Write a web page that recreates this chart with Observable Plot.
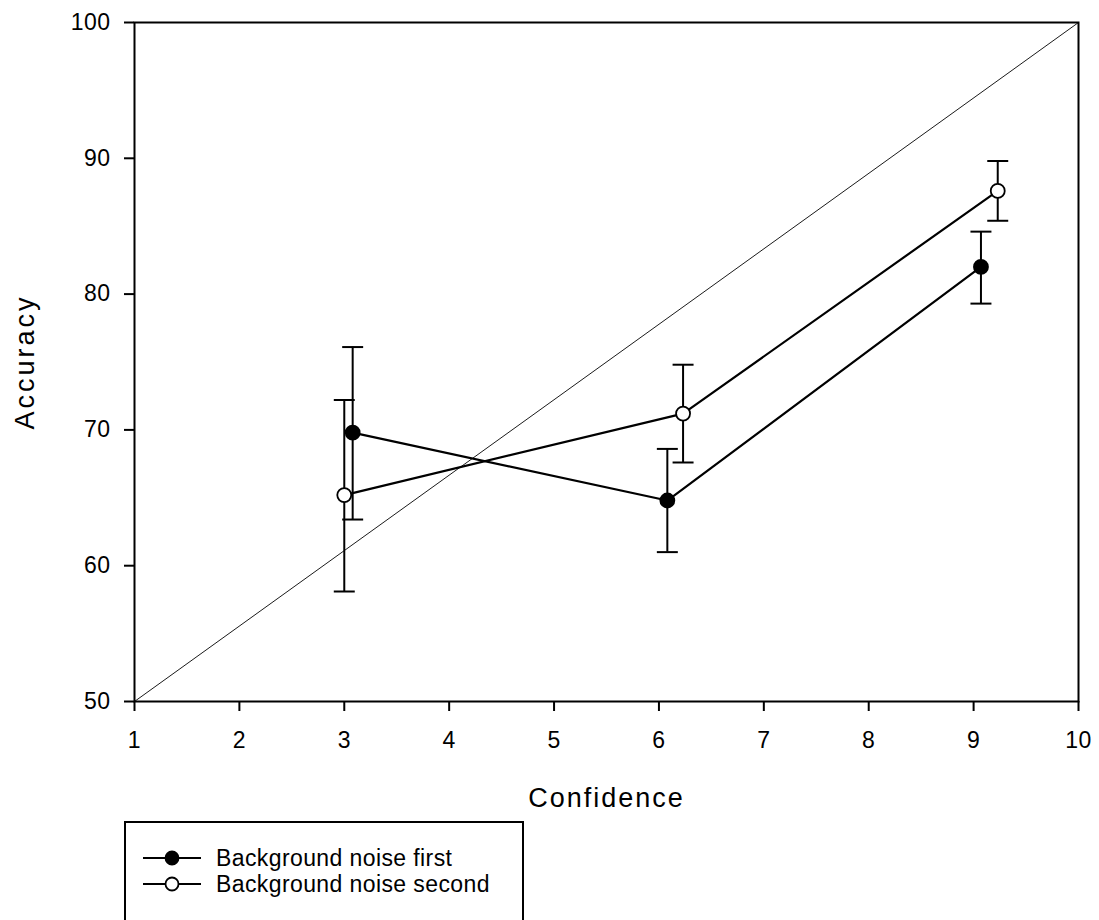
<!DOCTYPE html>
<html>
<head>
<meta charset="utf-8">
<script src="https://cdn.jsdelivr.net/npm/d3@7"></script>
<script src="https://cdn.jsdelivr.net/npm/@observablehq/plot@0.6"></script>
<style>
  html, body { margin: 0; padding: 0; background: #fff; width: 1099px; height: 920px; overflow: hidden; }
  body { font-family: "Liberation Sans", Arial, sans-serif; position: relative; }
  #chart svg { display: block; }
  #legend {
    position: absolute; left: 124px; top: 821px; width: 400px; height: 130px;
    border: 2px solid #000; box-sizing: border-box; background: #fff;
  }
  .row { position: absolute; left: 16px; height: 26px; display: flex; align-items: center; }
  .row span { font-size: 23px; letter-spacing: 0.4px; color: #000; margin-left: 14px; }
</style>
</head>
<body>
<div id="chart"></div>
<div id="legend"></div>
<script>
// ---- data ----
const seriesNames = ["Background noise first", "Background noise second"];
const firstX  = [3.08, 6.08, 9.07];
const firstY  = [69.8, 64.8, 82.0];
const firstHi = [76.1, 68.6, 84.6];
const firstLo = [63.4, 61.0, 79.3];
const secondX  = [3.0, 6.23, 9.23];
const secondY  = [65.2, 71.2, 87.6];
const secondHi = [72.2, 74.8, 89.8];
const secondLo = [58.1, 67.6, 85.4];
const diagX = [1, 10];
const diagY = [50, 100];
const xTicks = [1, 2, 3, 4, 5, 6, 7, 8, 9, 10];
const yTicks = [50, 60, 70, 80, 90, 100];
const capHalf = 0.1;

const rows = [];
[[firstX, firstY, firstHi, firstLo], [secondX, secondY, secondHi, secondLo]].forEach(([xs, ys, his, los], s) => {
  xs.forEach((x, i) => rows.push({series: seriesNames[s], x, y: ys[i], hi: his[i], lo: los[i]}));
});
const diag = diagX.map((x, i) => ({x, y: diagY[i]}));

const chart = Plot.plot({
  width: 1099,
  height: 815,
  marginLeft: 134,
  marginRight: 21,
  marginTop: 22,
  marginBottom: 114,
  style: {fontFamily: "Liberation Sans, Arial, sans-serif", color: "#000", background: "#fff"},
  x: {domain: [1, 10]},
  y: {domain: [50, 100]},
  marks: [
    Plot.line(diag, {x: "x", y: "y", stroke: "#000", strokeWidth: 0.9}),
    Plot.ruleX(rows, {x: "x", y1: "lo", y2: "hi", stroke: "#000", strokeWidth: 2}),
    Plot.link(rows, {x1: d => d.x - capHalf, x2: d => d.x + capHalf, y1: "hi", y2: "hi", stroke: "#000", strokeWidth: 2}),
    Plot.link(rows, {x1: d => d.x - capHalf, x2: d => d.x + capHalf, y1: "lo", y2: "lo", stroke: "#000", strokeWidth: 2}),
    Plot.line(rows, {x: "x", y: "y", z: "series", stroke: "#000", strokeWidth: 2.2}),
    Plot.dot(rows, {x: "x", y: "y", r: 7, stroke: "#000", strokeWidth: 1.8,
      fill: d => d.series === seriesNames[0] ? "#000" : "#fff"}),
    Plot.frame({stroke: "#000", strokeWidth: 2}),
    Plot.axisX({ticks: xTicks, tickSize: 10, tickPadding: 20, fontSize: 23, tickFormat: d => String(d),
      label: "Confidence", labelAnchor: "center", labelArrow: "none", labelOffset: 105, strokeWidth: 2}),
    Plot.axisY({ticks: yTicks, tickSize: 10, tickPadding: 14, fontSize: 23, tickFormat: d => String(d),
      label: "Accuracy", labelAnchor: "center", labelArrow: "none", labelOffset: 120, strokeWidth: 2})
  ]
});
document.getElementById("chart").appendChild(chart);

// axis label font
chart.querySelectorAll("g[aria-label='x-axis label'] text, g[aria-label='y-axis label'] text").forEach(t => {
  t.setAttribute("font-size", "27");
  t.style.fontSize = "27px";
  t.style.letterSpacing = "2px";
});
chart.querySelectorAll("g[aria-label='y-axis label'] text").forEach(t => { t.style.letterSpacing = "3px"; });
chart.querySelectorAll("g[aria-label='x-axis tick label'] text, g[aria-label='y-axis tick label'] text").forEach(t => {
  t.style.letterSpacing = "0.5px";
});

// legend
const legend = document.getElementById("legend");
seriesNames.forEach((name, i) => {
  const row = document.createElement("div");
  row.className = "row";
  row.style.top = (22 + i * 26) + "px";
  const ns = "http://www.w3.org/2000/svg";
  const svg = document.createElementNS(ns, "svg");
  svg.setAttribute("width", 60); svg.setAttribute("height", 20);
  const line = document.createElementNS(ns, "line");
  line.setAttribute("x1", 1); line.setAttribute("x2", 59); line.setAttribute("y1", 10); line.setAttribute("y2", 10);
  line.setAttribute("stroke", "#000"); line.setAttribute("stroke-width", 2);
  const c = document.createElementNS(ns, "circle");
  c.setAttribute("cx", 30); c.setAttribute("cy", 10); c.setAttribute("r", 6.5);
  c.setAttribute("fill", i === 0 ? "#000" : "#fff"); c.setAttribute("stroke", "#000"); c.setAttribute("stroke-width", 1.8);
  svg.appendChild(line); svg.appendChild(c);
  const span = document.createElement("span");
  span.textContent = name;
  row.appendChild(svg); row.appendChild(span);
  legend.appendChild(row);
});
</script>
</body>
</html>
